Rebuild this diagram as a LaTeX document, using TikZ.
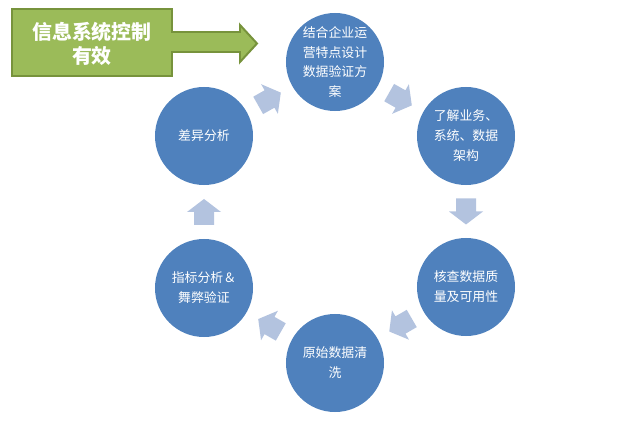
\documentclass[tikz,border=0pt]{standalone}
\usepackage{fontspec}
\setmainfont{Noto Sans CJK SC}
\usetikzlibrary{positioning,calc}
\definecolor{stageblue}{HTML}{4F81BD}
\definecolor{arrowblue}{HTML}{B3C3DF}
\definecolor{goalgreen}{HTML}{9BBB59}
\definecolor{goalborder}{HTML}{77933C}

\begin{document}
\begin{tikzpicture}[x=0.03cm, y=0.03cm,
    stage/.style={circle, fill=stageblue, minimum size=2.94cm, inner sep=0pt, align=center,
        text=white, font=\fontsize{11pt}{17pt}\selectfont},
    goal/.style={text=white, align=center, font=\bfseries\fontsize{17pt}{21pt}\selectfont},
    cyclearrow/.pic={
        \fill[arrowblue] (-13,-10) -- (0,-10) -- (0,-17) -- (13,0) -- (0,17) -- (0,10) -- (-13,10) -- cycle;
    }
]
    \useasboundingbox (0,0) rectangle (631,-424);

    % Goal callout
    \draw[goalborder, line width=1.7pt, fill=goalgreen]
        (12,-9) -- (172,-9) -- (172,-32) -- (240,-32) -- (240,-25) -- (257,-43.5)
        -- (240,-62) -- (240,-52) -- (172,-52) -- (172,-76) -- (12,-76) -- cycle;
    \node[goal] (goal) at (92,-44) {信息系统控制\\有效};

    % Stages of the cycle
    \node[stage] (design) at (335,-62) {结合企业运\\营特点设计\\数据验证方\\案};
    \node[stage] (learn) at (466,-136) {了解业务、\\系统、数据\\架构};
    \node[stage] (check) at (466,-287) {核查数据质\\量及可用性};
    \node[stage] (clean) at (335,-363) {原始数据清\\洗};
    \node[stage] (index) at (204,-288) {指标分析＆\\舞弊验证};
    \node[stage] (diff) at (204,-136) {差异分析};

    % Arrows between stages
    \foreach \from/\to in {design/learn, learn/check, check/clean, clean/index, index/diff, diff/design}
        \path let \p1=($(\to)-(\from)$), \n1={atan2(\y1,\x1)} in
            ($(\from)!0.5!(\to)$) pic[rotate=\n1] {cyclearrow};
\end{tikzpicture}
\end{document}
